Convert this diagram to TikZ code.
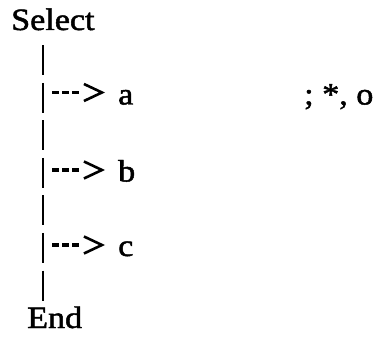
\documentclass[tikz,border=0pt]{standalone}
\usepackage{fontspec}
\setmainfont{Liberation Serif}[FakeBold=1.5]
\usetikzlibrary{positioning, calc, arrows.meta}
\newcommand{\branch}[2] {
    \draw[line width=3.4pt, dash pattern=on 7pt off 3pt on 7pt off 3pt on 7pt off 40pt,
          -{Straight Barb[length=18pt, width=17pt, line width=2.6pt]}, shorten <=9pt, shorten >=13pt]
          (#1) -- (#1 -| #2.west);
}

\begin{document}
\begin{tikzpicture}[x=1pt, y=-1pt,
                    txt/.style={anchor=base west, inner sep=0pt, xscale=1.1, font=\fontsize{31}{36}\selectfont}]
                \useasboundingbox (0,0) rectangle (381,337);
                \node[txt] (select) at (11,30) {Select};
                \node[txt] (a) at (118,104.5) {a};
                \node[txt] (b) at (118,181.5) {b};
                \node[txt] (c) at (118,256) {c};
                \node[txt] (end) at (27,328) {End};
                \node[txt] (flags) at (304,104.5) {; *, o};
                \coordinate (ta) at (43,92.5);
                \coordinate (tb) at (43,170);
                \coordinate (tc) at (43,245);
                % bars, one per text line
                \foreach \k in {1,...,7} {
                    \draw[line width=2.6pt] (43,30+37.5*\k-22) -- (43,30+37.5*\k+8);
                }
                \branch{ta}{a}
                \branch{tb}{b}
                \branch{tc}{c}
            \end{tikzpicture}
\end{document}
